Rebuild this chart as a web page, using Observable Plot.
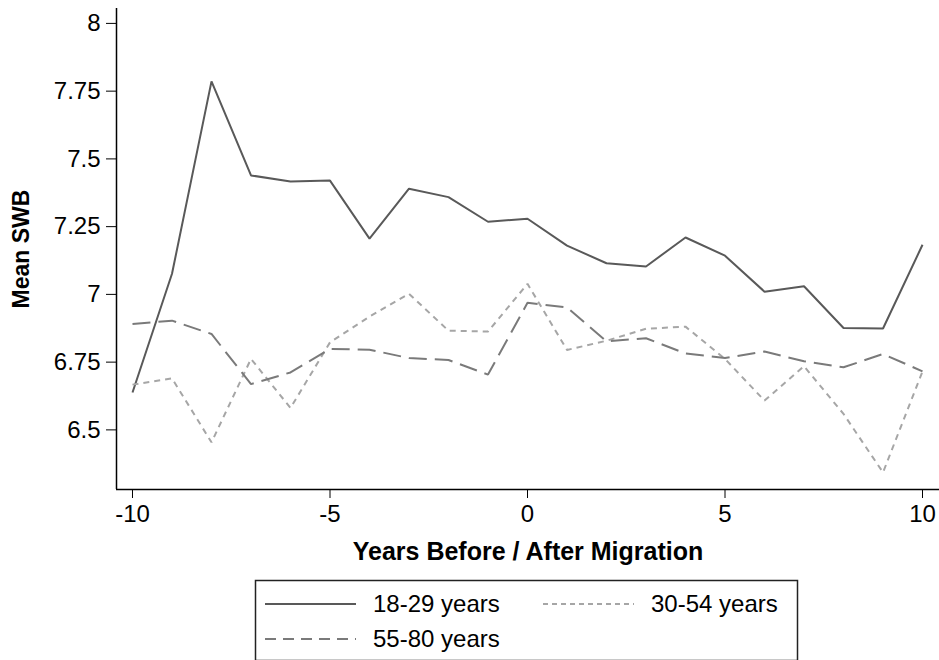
<!DOCTYPE html>
<html>
<head>
<meta charset="utf-8">
<script src="https://cdn.jsdelivr.net/npm/d3@7"></script>
<script src="https://cdn.jsdelivr.net/npm/@observablehq/plot@0.6"></script>
<style>
  html, body { margin: 0; padding: 0; background: #fff; overflow: hidden; width: 939px; height: 660px; }
  #chart { position: absolute; left: 0; top: 0; }
  #legend { position: absolute; left: 0; top: 0; }
</style>
</head>
<body>
<div id="chart"></div>
<div id="legend"></div>
<script>
const years = [-10, -9, -8, -7, -6, -5, -4, -3, -2, -1, 0, 1, 2, 3, 4, 5, 6, 7, 8, 9, 10];
const seriesNames = ["18-29 years", "30-54 years", "55-80 years"];
const young = [6.638, 7.076, 7.786, 7.439, 7.417, 7.420, 7.206, 7.390, 7.359, 7.268, 7.279, 7.180, 7.115, 7.103, 7.210, 7.143, 7.010, 7.030, 6.876, 6.874, 7.183];
const middle = [6.667, 6.690, 6.454, 6.762, 6.581, 6.823, 6.918, 7.002, 6.866, 6.863, 7.039, 6.795, 6.829, 6.873, 6.881, 6.762, 6.608, 6.735, 6.559, 6.343, 6.716];
const older = [6.891, 6.903, 6.854, 6.669, 6.712, 6.799, 6.796, 6.765, 6.758, 6.704, 6.969, 6.952, 6.827, 6.838, 6.782, 6.765, 6.789, 6.753, 6.731, 6.780, 6.716];
const xTicks = [-10, -5, 0, 5, 10];
const yTicks = [6.5, 6.75, 7, 7.25, 7.5, 7.75, 8];

const styles = {
  "18-29 years": {stroke: "#595959", dash: null, legendDash: null},
  "30-54 years": {stroke: "#a6a6a6", dash: "6,5", legendDash: "5,4"},
  "55-80 years": {stroke: "#7a7a7a", dash: "18,8", legendDash: "11,7"}
};

const rows = [];
[young, middle, older].forEach((vals, si) => {
  vals.forEach((v, i) => rows.push({year: years[i], value: v, group: seriesNames[si]}));
});

const font = "'Liberation Sans', Arial, Helvetica, sans-serif";
const W = 939, H = 575;

const lines = seriesNames.map(name => Plot.line(rows.filter(r => r.group === name), {
  x: "year", y: "value",
  stroke: styles[name].stroke,
  strokeWidth: 2,
  strokeDasharray: styles[name].dash,
  strokeLinejoin: "miter",
  strokeLinecap: "butt"
}));

const chart = Plot.plot({
  width: W,
  height: H,
  marginTop: 8,
  marginBottom: H - 489,
  marginLeft: 116,
  marginRight: 0,
  style: {fontFamily: font, fontSize: "24px", color: "#000", background: "#fff", overflow: "visible"},
  x: {domain: [-10.405, 10.43]},
  y: {domain: [6.28, 8.055]},
  marks: [
    Plot.axisX({ticks: xTicks, tickFormat: d => String(d), tickSize: 9, tickPadding: 6, fontSize: 24,
      label: "Years Before / After Migration", labelAnchor: "center", labelArrow: "none", labelOffset: 70}),
    Plot.axisY({ticks: yTicks, tickFormat: d => String(d), tickSize: 10, tickPadding: 6, fontSize: 24,
      label: "Mean SWB", labelAnchor: "center", labelArrow: "none", labelOffset: 104}),
    Plot.ruleX([-10.405], {stroke: "#000", strokeWidth: 1.5}),
    Plot.ruleY([6.28], {stroke: "#000", strokeWidth: 1.5}),
    ...lines
  ]
});
// bold axis titles
chart.querySelectorAll("g[aria-label='x-axis label'] text, g[aria-label='y-axis label'] text").forEach(t => {
  t.setAttribute("font-weight", "bold");
});
chart.querySelector("g[aria-label='x-axis label']")?.setAttribute("font-size", "25");
chart.querySelector("g[aria-label='y-axis label']")?.setAttribute("font-size", "23");
document.getElementById("chart").appendChild(chart);

// Legend (below the plot SVG)
const legendItems = [
  {name: "18-29 years", x: 265, y: 604},
  {name: "30-54 years", x: 543, y: 604},
  {name: "55-80 years", x: 265, y: 639}
];
const lg = d3.select("#legend").append("svg")
  .attr("width", W).attr("height", 660)
  .style("position", "absolute").style("left", "0px").style("top", "0px")
  .style("font-family", font);
lg.append("rect")
  .attr("x", 255.5).attr("y", 580.5).attr("width", 542).attr("height", 80)
  .attr("fill", "none").attr("stroke", "#222").attr("stroke-width", 1.5);
legendItems.forEach(it => {
  lg.append("line")
    .attr("x1", it.x).attr("x2", it.x + 91).attr("y1", it.y).attr("y2", it.y)
    .attr("stroke", styles[it.name].stroke).attr("stroke-width", 2)
    .attr("stroke-dasharray", styles[it.name].legendDash);
  lg.append("text")
    .attr("x", it.x + 108).attr("y", it.y + 8)
    .attr("font-size", 24).attr("fill", "#000")
    .text(it.name);
});
</script>
</body>
</html>
